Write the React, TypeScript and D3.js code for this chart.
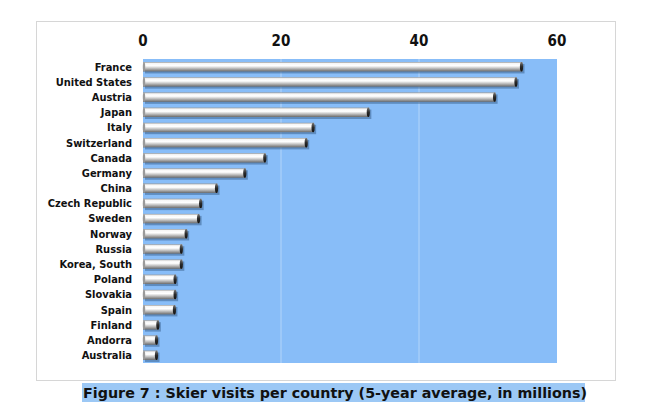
import React from "react";
import * as d3 from "d3";

const countries = [
  "France", "United States", "Austria", "Japan", "Italy", "Switzerland", "Canada",
  "Germany", "China", "Czech Republic", "Sweden", "Norway", "Russia", "Korea, South",
  "Poland", "Slovakia", "Spain", "Finland", "Andorra", "Australia",
];
const visits = [
  55.0, 54.2, 51.1, 32.8, 24.8, 23.8, 17.8, 14.9, 10.8, 8.5, 8.2, 6.4, 5.7, 5.7,
  4.8, 4.8, 4.7, 2.3, 2.1, 2.1,
];
const ticks = [0, 20, 40, 60];
const caption = "Figure 7 : Skier visits per country (5-year average, in millions)";

const W = 650, H = 418;
const plot = { left: 143, right: 557, top: 59, bottom: 363 };

export default function App() {
  const x = d3.scaleLinear().domain([0, 60]).range([plot.left, plot.right]);
  const y = d3.scaleBand<string>().domain(countries).range([plot.top, plot.bottom]).paddingInner(0.38).paddingOuter(0.2);
  const bh = y.bandwidth();
  const font = "'DejaVu Sans Condensed', 'DejaVu Sans', sans-serif";
  return (
    <svg width={W} height={H} style={{ position: "absolute", left: 0, top: 0, background: "#fff" }}>
      <defs>
        <linearGradient id="bar" x1="0" y1="0" x2="0" y2="1">
          <stop offset="0%" stopColor="#9a9a9a" />
          <stop offset="15%" stopColor="#f6f6f6" />
          <stop offset="40%" stopColor="#ffffff" />
          <stop offset="65%" stopColor="#c4c4c4" />
          <stop offset="100%" stopColor="#6a6a6a" />
        </linearGradient>
        <linearGradient id="cap" x1="0" y1="0" x2="0" y2="1">
          <stop offset="0%" stopColor="#777" />
          <stop offset="50%" stopColor="#2a2a2a" />
          <stop offset="100%" stopColor="#111" />
        </linearGradient>
      </defs>
      <rect x={36.5} y={21.5} width={579} height={359} fill="#fff" stroke="#d6d6d6" strokeWidth={1} />
      <rect x={plot.left} y={plot.top} width={plot.right - plot.left} height={plot.bottom - plot.top} fill="#88bdf8" />
      {ticks.slice(1, -1).map((t) => (
        <line key={t} x1={x(t)} x2={x(t)} y1={plot.top} y2={plot.bottom} stroke="#b3d5fa" strokeWidth={1} />
      ))}
      {ticks.map((t) => (
        <text key={t} x={x(t)} y={46} textAnchor="middle" fontFamily={font} fontWeight="bold" fontSize={15} fill="#111">{t}</text>
      ))}
      {countries.map((c, i) => {
        const yy = y(c)!;
        const x0 = x(0), x1 = x(visits[i]);
        return (
          <g key={c}>
            <rect x={x0 + 2} y={yy + 2} width={x1 - x0} height={bh} fill="#3d6591" opacity={0.55} />
            <rect x={x0} y={yy} width={x1 - x0} height={bh} fill="url(#bar)" />
            <ellipse cx={x0 + 1} cy={yy + bh / 2} rx={1.2} ry={bh / 2} fill="#9a9a9a" />
            <ellipse cx={x1 - 1} cy={yy + bh / 2} rx={1.6} ry={bh / 2} fill="url(#cap)" />
            <text x={132} y={yy + bh / 2} dy="0.35em" textAnchor="end" fontFamily={font} fontWeight="bold" fontSize={11} fill="#111">{c}</text>
          </g>
        );
      })}
      <rect x={82} y={383} width={503} height={19} fill="#9cc8f5" />
      <text x={83} y={398} fontFamily="'DejaVu Sans', sans-serif" fontWeight="bold" fontSize={14.3} fill="#111">{caption}</text>
    </svg>
  );
}
